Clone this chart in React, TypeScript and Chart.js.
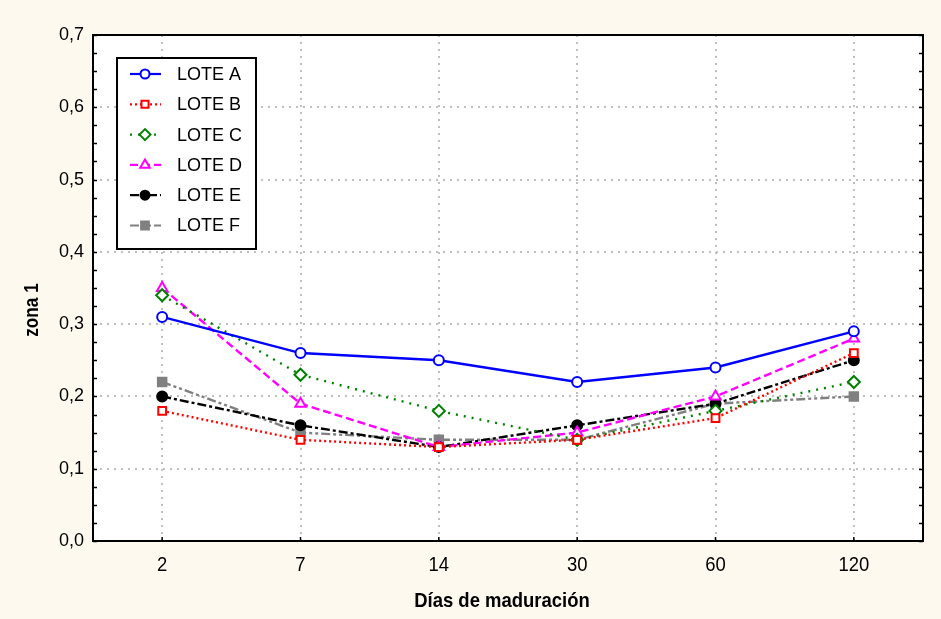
import React, { useEffect, useRef } from 'react';
import { Chart, registerables } from 'chart.js';
import { drawPoint } from 'chart.js/helpers';

Chart.register(...registerables);

const categories = ['2', '7', '14', '30', '60', '120'];
const seriesNames = ['LOTE A', 'LOTE B', 'LOTE C', 'LOTE D', 'LOTE E', 'LOTE F'];
const loteA = [0.31, 0.26, 0.25, 0.22, 0.24, 0.29];
const loteB = [0.18, 0.14, 0.13, 0.14, 0.17, 0.26];
const loteC = [0.34, 0.23, 0.18, 0.14, 0.18, 0.22];
const loteD = [0.35, 0.19, 0.13, 0.15, 0.2, 0.28];
const loteE = [0.2, 0.16, 0.13, 0.16, 0.19, 0.25];
const loteF = [0.22, 0.15, 0.14, 0.14, 0.19, 0.2];
const yMin = 0;
const yMax = 0.7;
const yStep = 0.1;
const yMinorStep = 0.025;
const xTitle = 'Días de maduración';
const yTitle = 'zona 1';

const BG = '#fef9ef';
const FONT = "'Liberation Sans', Arial, sans-serif";

const styles = [
  { color: '#0000ff', dash: [], point: 'circle', radius: 5, fill: '#ffffff' },
  { color: '#ff0000', dash: [2, 3], point: 'rect', radius: 5.5, fill: '#ffffff' },
  { color: '#008000', dash: [2, 6], point: 'rectRot', radius: 6, fill: '#ffffff' },
  { color: '#ff00ff', dash: [8, 4], point: 'triangle', radius: 6, fill: '#ffffff' },
  { color: '#000000', dash: [9, 3, 3, 3], point: 'circle', radius: 5, fill: '#000000' },
  { color: '#808080', dash: [9, 3, 3, 3, 3, 3], point: 'rect', radius: 6, fill: '#808080' },
];

function narrowText(ctx: any, text: string, x: number, y: number, font: string, sx: number, rot = 0) {
  ctx.save();
  ctx.translate(x, y);
  if (rot) ctx.rotate(rot);
  ctx.scale(sx, 1);
  ctx.font = font;
  ctx.textAlign = 'center';
  ctx.textBaseline = 'middle';
  ctx.fillText(text, 0, 0);
  ctx.restore();
}

const decor = {
  id: 'decor',
  beforeDraw(chart: any) {
    const { ctx, chartArea: a } = chart;
    ctx.save();
    ctx.fillStyle = BG;
    ctx.fillRect(0, 0, chart.width, chart.height);
    ctx.fillStyle = '#ffffff';
    ctx.fillRect(a.left, a.top, a.right - a.left, a.bottom - a.top);
    ctx.restore();
  },
  afterDraw(chart: any) {
    const { ctx, chartArea: a } = chart;
    const ys = chart.scales.y;
    const xs = chart.scales.x;
    ctx.save();
    // frame
    ctx.strokeStyle = '#000000';
    ctx.lineWidth = 2;
    ctx.setLineDash([]);
    ctx.strokeRect(a.left, a.top, a.right - a.left, a.bottom - a.top);
    // minor ticks
    ctx.lineWidth = 1.5;
    ctx.beginPath();
    for (let v = yMin; v <= yMax + 1e-9; v += yMinorStep) {
      const y = Math.round(ys.getPixelForValue(v)) + 0.5;
      ctx.moveTo(a.left, y);
      ctx.lineTo(a.left + 4, y);
      ctx.moveTo(a.right, y);
      ctx.lineTo(a.right - 4, y);
    }
    for (let i = 0; i < categories.length; i++) {
      const x = xs.getPixelForValue(i);
      ctx.moveTo(x, a.bottom);
      ctx.lineTo(x, a.bottom - 4);
    }
    ctx.stroke();

    // x tick labels (condensed)
    ctx.fillStyle = '#000000';
    (chart.data.labels as string[]).forEach((lab: string, i: number) => {
      narrowText(ctx, lab, xs.getPixelForValue(i), 565, `21px ${FONT}`, 0.88);
    });

    // axis titles
    narrowText(ctx, xTitle, (a.left + a.right) / 2 - 6, 601, `bold 21px ${FONT}`, 0.88);
    narrowText(ctx, yTitle, 32, 310, `bold 20px ${FONT}`, 0.86, -Math.PI / 2);

    // legend
    const bx = 117, by = 58, bw = 139, bh = 191;
    ctx.fillStyle = '#ffffff';
    ctx.fillRect(bx, by, bw, bh);
    ctx.strokeStyle = '#000000';
    ctx.lineWidth = 2;
    ctx.strokeRect(bx, by, bw, bh);
    chart.data.datasets.forEach((ds: any, i: number) => {
      const y = 74 + i * 30.3;
      const st = styles[i];
      ctx.save();
      ctx.strokeStyle = st.color;
      ctx.lineWidth = 2.2;
      ctx.setLineDash(st.dash);
      ctx.beginPath();
      ctx.moveTo(130, y);
      ctx.lineTo(161, y);
      ctx.stroke();
      ctx.setLineDash([]);
      ctx.fillStyle = st.fill;
      ctx.strokeStyle = st.color;
      ctx.lineWidth = 2;
      drawPoint(ctx, { pointStyle: st.point, radius: st.radius - 0.5, rotation: 0, borderWidth: 2 } as any, 145, y);
      ctx.restore();
      ctx.fillStyle = '#000000';
      ctx.font = `18px ${FONT}`;
      ctx.textAlign = 'left';
      ctx.textBaseline = 'middle';
      ctx.fillText(ds.label, 177, y + 1);
    });
    ctx.restore();
  },
};

export default function App() {
  const ref = useRef<HTMLCanvasElement | null>(null);
  useEffect(() => {
    document.body.style.margin = '0';
    const seriesData = [loteA, loteB, loteC, loteD, loteE, loteF];
    const chart = new Chart(ref.current as HTMLCanvasElement, {
      type: 'line',
      data: {
        labels: categories,
        datasets: seriesData.map((d, i) => ({
          label: seriesNames[i],
          data: d,
          borderColor: styles[i].color,
          borderWidth: 2.4,
          borderDash: styles[i].dash,
          pointStyle: styles[i].point as any,
          pointRadius: styles[i].radius,
          pointBorderWidth: 2,
          pointBackgroundColor: styles[i].fill,
          pointBorderColor: styles[i].color,
          tension: 0,
          fill: false,
        })),
      },
      options: {
        responsive: false,
        animation: false,
        layout: { padding: { top: 35, right: 18, left: 0, bottom: 0 } },
        plugins: { legend: { display: false }, tooltip: { enabled: false } },
        scales: {
          x: {
            offset: true,
            grid: { offset: false, color: '#c0c0c0', lineWidth: 2, drawTicks: false },
            border: { display: false, dash: [2, 5] },
            ticks: { display: false },
            afterFit: (s: any) => { s.height = 78; },
          },
          y: {
            min: yMin,
            max: yMax,
            grid: { color: '#c0c0c0', lineWidth: 2, drawTicks: false },
            border: { display: false, dash: [2, 5] },
            ticks: {
              stepSize: yStep,
              color: '#000000',
              font: { family: FONT, size: 18 },
              padding: 9,
              callback: (v: any) => Number(v).toFixed(1).replace('.', ','),
            },
            afterFit: (s: any) => { s.width = 93; },
          },
        },
      },
      plugins: [decor],
    });
    return () => chart.destroy();
  }, []);
  return <canvas ref={ref} width={941} height={619} style={{ display: 'block' }} />;
}
